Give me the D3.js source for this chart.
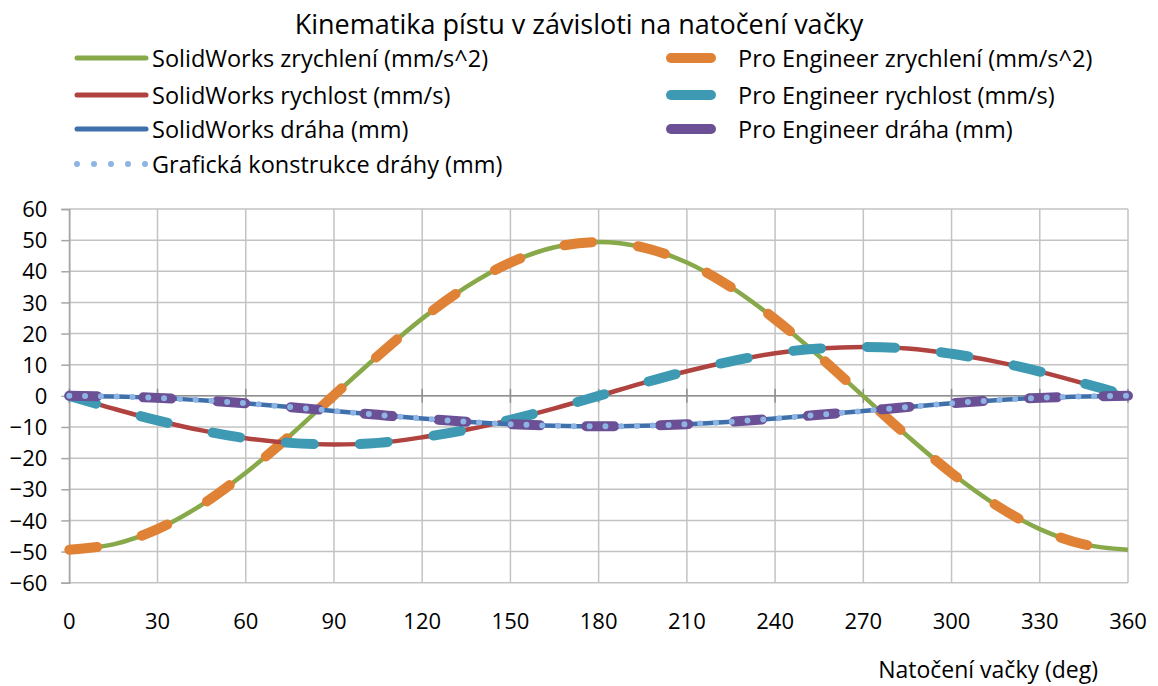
<!DOCTYPE html>
<html lang="cs">
<head>
<meta charset="utf-8">
<title>Kinematika pístu</title>
<script src="https://cdn.jsdelivr.net/npm/d3@7"></script>
<style>
  html, body { margin: 0; padding: 0; background: #ffffff; }
  svg { display: block; font-family: "Open Sans", "Noto Sans", sans-serif; }
</style>
</head>
<body>
<svg id="chart" width="1158" height="686"></svg>
<script>
// Cam angle (deg)
const angles = [0, 15, 30, 45, 60, 75, 90, 105, 120, 135, 150, 165, 180,
                195, 210, 225, 240, 255, 270, 285, 300, 315, 330, 345, 360];

// SolidWorks results
const swAccel = [-49.4, -47.7, -42.8, -35.0, -24.7, -12.8, 0.2, 12.9, 24.8, 35.0, 42.8, 47.7, 49.4,
                 47.7, 42.8, 34.9, 24.6, 12.7, -0.1, -12.9, -24.8, -35.0, -42.8, -47.7, -49.4];
const swVel = [0, -4.1, -7.9, -11.1, -13.6, -15.1, -15.6, -15.1, -13.3, -10.9, -7.7, -4.0, 0,
               4.1, 7.9, 11.1, 13.7, 15.2, 15.7, 15.2, 13.5, 11.0, 7.8, 4.0, 0];
const swDisp = [0, -0.2, -0.65, -1.4, -2.4, -3.6, -4.85, -6.1, -7.3, -8.3, -9.1, -9.6, -9.8,
                -9.6, -9.1, -8.3, -7.3, -6.1, -4.85, -3.6, -2.4, -1.4, -0.65, -0.2, 0];

// Pro Engineer results
const peAccel = [-49.4, -47.7, -42.8, -35.0, -24.7, -12.8, 0.2, 12.9, 24.8, 35.0, 42.8, 47.7, 49.4,
                 47.7, 42.8, 34.9, 24.6, 12.7, -0.1, -12.9, -24.8, -35.0, -42.8, -47.7, -49.4];
const peVel = [0, -4.1, -7.9, -11.1, -13.6, -15.1, -15.6, -15.1, -13.3, -10.9, -7.7, -4.0, 0,
               4.1, 7.9, 11.1, 13.7, 15.2, 15.7, 15.2, 13.5, 11.0, 7.8, 4.0, 0];
const peDisp = [0, -0.2, -0.65, -1.4, -2.4, -3.6, -4.85, -6.1, -7.3, -8.3, -9.1, -9.6, -9.8,
                -9.6, -9.1, -8.3, -7.3, -6.1, -4.85, -3.6, -2.4, -1.4, -0.65, -0.2, 0];

// Graphical construction of the displacement
const grDisp = [0, -0.2, -0.65, -1.4, -2.4, -3.6, -4.85, -6.1, -7.3, -8.3, -9.1, -9.6, -9.8,
                -9.6, -9.1, -8.3, -7.3, -6.1, -4.85, -3.6, -2.4, -1.4, -0.65, -0.2, 0];

// Axis ticks
const xTicks = [0, 30, 60, 90, 120, 150, 180, 210, 240, 270, 300, 330, 360];
const yTicks = [-60, -50, -40, -30, -20, -10, 0, 10, 20, 30, 40, 50, 60];

// Texts
const titleText = "Kinematika pístu v závisloti na natočení vačky";
const xAxisTitle = "Natočení vačky (deg)";

// Series in drawing order, with their line styles
const series = [
  { name: "SolidWorks zrychlení (mm/s^2)",   values: swAccel, color: "#88a94a", width: 4.5, dash: null },
  { name: "Pro Engineer zrychlení (mm/s^2)", values: peAccel, color: "#e08236", width: 10,  dash: "28 46" },
  { name: "SolidWorks rychlost (mm/s)",      values: swVel,   color: "#b0433f", width: 4.5, dash: null },
  { name: "Pro Engineer rychlost (mm/s)",    values: peVel,   color: "#3d9ab2", width: 10,  dash: "28 46" },
  { name: "SolidWorks dráha (mm)",           values: swDisp,  color: "#3f70ab", width: 4.5, dash: null },
  { name: "Pro Engineer dráha (mm)",         values: peDisp,  color: "#6b5096", width: 10,  dash: "28 46" },
  { name: "Grafická konstrukce dráhy (mm)",  values: grDisp,  color: "#8db4e3", width: 6,   dash: "0 15.8" }
];

const svg = d3.select("#chart");

const x = d3.scaleLinear().domain([0, 360]).range([69.3, 1128]);
const y = d3.scaleLinear().domain([-60, 60]).range([582.7, 209]);

// Title
svg.append("text")
  .attr("x", 579).attr("y", 23)
  .attr("text-anchor", "middle").attr("dominant-baseline", "central")
  .attr("font-size", 27).attr("fill", "#000")
  .text(titleText);

// Grid
const grid = svg.append("g").attr("class", "grid");
grid.selectAll("line.h").data(yTicks).join("line")
  .attr("class", "h")
  .attr("x1", x(0)).attr("x2", x(360))
  .attr("y1", d => y(d)).attr("y2", d => y(d))
  .attr("stroke", "#c3c3c3").attr("stroke-width", 1.5);
grid.selectAll("line.v").data(xTicks).join("line")
  .attr("class", "v")
  .attr("x1", d => x(d)).attr("x2", d => x(d))
  .attr("y1", y(-60)).attr("y2", y(60))
  .attr("stroke", "#c3c3c3").attr("stroke-width", 1.5);

// Y axis with outer ticks and labels
const yAxis = d3.axisLeft(y).tickValues(yTicks).tickSize(8).tickPadding(14).tickFormat(d3.format("d"));
const gy = svg.append("g").attr("transform", `translate(${x(0)},0)`).call(yAxis);
gy.select(".domain").attr("stroke", "#a6a6a6").attr("stroke-width", 1.5);
gy.selectAll(".tick line").attr("stroke", "#a6a6a6").attr("stroke-width", 1.5);
gy.selectAll(".tick text")
  .attr("font-family", "'Open Sans', sans-serif").attr("font-size", 22).attr("fill", "#000")
  .attr("dy", "0.35em");

// X axis line through zero with crossing ticks
const gx = svg.append("g");
gx.append("line")
  .attr("x1", x(0)).attr("x2", x(360)).attr("y1", y(0)).attr("y2", y(0))
  .attr("stroke", "#8f8f8f").attr("stroke-width", 1.5);
gx.selectAll("line.tick").data(xTicks).join("line")
  .attr("class", "tick")
  .attr("x1", d => x(d)).attr("x2", d => x(d))
  .attr("y1", y(0) - 7).attr("y2", y(0) + 7)
  .attr("stroke", "#8f8f8f").attr("stroke-width", 1.5);

// X tick labels below the plot
svg.append("g").selectAll("text").data(xTicks).join("text")
  .attr("x", d => x(d)).attr("y", 620)
  .attr("text-anchor", "middle").attr("dominant-baseline", "central")
  .attr("font-size", 22).attr("fill", "#000")
  .text(d => d);

// X axis title
svg.append("text")
  .attr("x", 1098).attr("y", 669)
  .attr("text-anchor", "end").attr("dominant-baseline", "central")
  .attr("font-size", 23).attr("fill", "#000")
  .text(xAxisTitle);

// Lines
const line = d3.line()
  .x((d, i) => x(angles[i]))
  .y(d => y(d))
  .curve(d3.curveCatmullRom.alpha(0.5));

const plot = svg.append("g");
series.forEach(s => {
  const p = plot.append("path")
    .datum(s.values)
    .attr("d", line)
    .attr("fill", "none")
    .attr("stroke", s.color)
    .attr("stroke-width", s.width)
    .attr("stroke-linecap", s.dash ? "round" : "butt")
    .attr("stroke-linejoin", "round");
  if (s.dash) p.attr("stroke-dasharray", s.dash);
});

// Legend: left column for SolidWorks and the graphical construction, right column for Pro Engineer
const legendRows = [58, 95, 129, 164];
const leftItems = [series[0], series[2], series[4], series[6]];
const rightItems = [series[1], series[3], series[5]];
const legend = svg.append("g");

leftItems.forEach((s, i) => {
  const ly = legendRows[i];
  const l = legend.append("line")
    .attr("x1", 77).attr("x2", 146).attr("y1", ly).attr("y2", ly)
    .attr("stroke", s.color)
    .attr("stroke-width", s.dash ? s.width : 5)
    .attr("stroke-linecap", "round");
  if (s.dash) l.attr("stroke-dasharray", "0 17");
  legend.append("text")
    .attr("x", 152).attr("y", ly)
    .attr("dominant-baseline", "central")
    .attr("font-size", 23.5).attr("fill", "#000")
    .text(s.name);
});

rightItems.forEach((s, i) => {
  const ly = legendRows[i];
  legend.append("line")
    .attr("x1", 671).attr("x2", 711).attr("y1", ly).attr("y2", ly)
    .attr("stroke", s.color)
    .attr("stroke-width", s.width)
    .attr("stroke-linecap", "round");
  legend.append("text")
    .attr("x", 738).attr("y", ly)
    .attr("dominant-baseline", "central")
    .attr("font-size", 23.5).attr("fill", "#000")
    .text(s.name);
});
</script>
</body>
</html>
